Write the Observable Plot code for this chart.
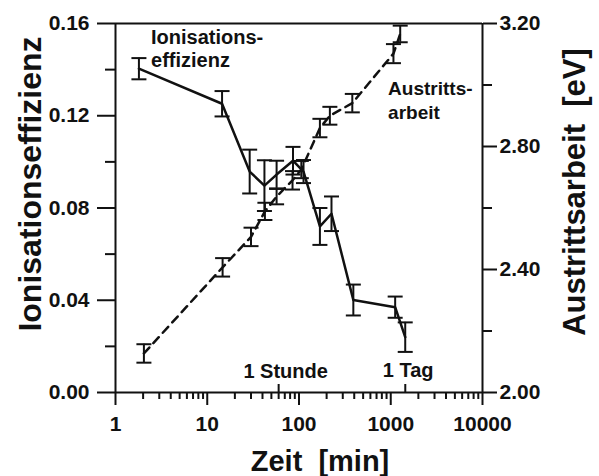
<!DOCTYPE html>
<html>
<head>
<meta charset="utf-8">
<script src="https://cdn.jsdelivr.net/npm/d3@7"></script>
<script src="https://cdn.jsdelivr.net/npm/@observablehq/plot@0.6"></script>
<style>
  html, body { margin: 0; padding: 0; background: #fff; }
</style>
</head>
<body>
<div id="chart"></div>
<script>
// Ionisationseffizienz (left axis, solid line)
const ionTime  = [1.8, 14.5, 29, 42, 57, 86, 112, 169, 226, 391, 1117, 1438];
const ionValue = [0.1404, 0.1252, 0.0958, 0.0897, 0.0945, 0.1005, 0.0958, 0.0720, 0.0775, 0.0401, 0.0370, 0.0240];
const ionError = [0.0046, 0.0055, 0.0095, 0.0110, 0.0060, 0.0060, 0.0050, 0.0080, 0.0075, 0.0067, 0.0046, 0.0064];

// Austrittsarbeit in eV (right axis, dashed line)
const ausTime  = [2.04, 14.7, 30, 42.5, 57, 85, 106, 169, 217, 381, 1070, 1268];
const ausValue = [2.127, 2.407, 2.506, 2.589, 2.637, 2.690, 2.725, 2.860, 2.900, 2.941, 3.102, 3.166];
const ausError = [0.030, 0.030, 0.030, 0.028, 0.025, 0.030, 0.028, 0.030, 0.029, 0.030, 0.031, 0.027];

// axes
const xDomain = [1, 10000];
const xMajor = [1, 10, 100, 1000, 10000];
const leftDomain = [0, 0.16];
const leftTicks = [0, 0.04, 0.08, 0.12, 0.16];
const leftMinor = [0.02, 0.06, 0.10, 0.14];
const rightDomain = [2.00, 3.20];
const rightTicks = [2.00, 2.40, 2.80, 3.20];
const rightMinor = [2.20, 2.60, 3.00];
const markTimes = [60, 1440];
const markLabels = ["1 Stunde", "1 Tag"];

const xMinor = [];
for (let e = 0; e < 4; e++) for (let k = 2; k <= 9; k++) xMinor.push(k * Math.pow(10, e));

// map right-axis values onto the left scale
const toLeft = v => (v - rightDomain[0]) / (rightDomain[1] - rightDomain[0]) * (leftDomain[1] - leftDomain[0]) + leftDomain[0];
const fromLeft = y => (y - leftDomain[0]) / (leftDomain[1] - leftDomain[0]) * (rightDomain[1] - rightDomain[0]) + rightDomain[0];

const ion = ionTime.map((t, i) => ({t, v: ionValue[i], lo: ionValue[i] - ionError[i], hi: ionValue[i] + ionError[i]}));
const aus = ausTime.map((t, i) => ({t, v: toLeft(ausValue[i]), lo: toLeft(ausValue[i] - ausError[i]), hi: toLeft(ausValue[i] + ausError[i])}));

const cap = {draw(ctx, size) { const r = Math.sqrt(size / Math.PI); ctx.moveTo(-r, 0); ctx.lineTo(r, 0); }};

const errorBars = (data) => [
  Plot.ruleX(data, {x: "t", y1: "lo", y2: "hi", strokeWidth: 2, stroke: "#111"}),
  Plot.dot(data, {x: "t", y: "lo", symbol: cap, r: 7.5, stroke: "#111", strokeWidth: 2, fill: "none"}),
  Plot.dot(data, {x: "t", y: "hi", symbol: cap, r: 7.5, stroke: "#111", strokeWidth: 2, fill: "none"})
];

const plot = Plot.plot({
  width: 599,
  height: 476,
  marginLeft: 115,
  marginRight: 117,
  marginTop: 23,
  marginBottom: 84,
  style: {fontFamily: "'Liberation Sans', Arial, sans-serif", fontSize: "21px", fontWeight: "bold", background: "#fff", color: "#111"},
  x: {type: "log", domain: xDomain, label: null},
  y: {domain: leftDomain, label: null},
  marks: [
    // frame
    Plot.ruleY([leftDomain[0], leftDomain[1]], {stroke: "#111", strokeWidth: 2}),
    Plot.ruleX([xDomain[0], xDomain[1]], {stroke: "#111", strokeWidth: 2}),
    // x axis
    Plot.axisX(xMajor, {anchor: "bottom", tickSize: 13, tickPadding: 11, strokeWidth: 2, tickFormat: d => String(d), label: null}),
    Plot.axisX(xMinor, {anchor: "bottom", tickSize: 7, strokeWidth: 2, tickFormat: () => "", label: null}),
    Plot.tickX(markTimes, {x: d => d, insetTop: 361, stroke: "#111", strokeWidth: 2}),
    // left y axis
    Plot.axisY(leftTicks, {anchor: "left", tickSize: 18, tickPadding: 8, strokeWidth: 2, tickFormat: d3.format(".2f"), label: null}),
    Plot.axisY(leftMinor, {anchor: "left", tickSize: 10, strokeWidth: 2, tickFormat: () => "", label: null}),
    // right y axis
    Plot.axisY(rightTicks.map(toLeft), {anchor: "right", tickSize: 14, tickPadding: 3, strokeWidth: 2, tickFormat: d => fromLeft(d).toFixed(2), label: null}),
    Plot.axisY(rightMinor.map(toLeft), {anchor: "right", tickSize: 9, strokeWidth: 2, tickFormat: () => "", label: null}),
    // data
    Plot.line(aus, {x: "t", y: "v", stroke: "#111", strokeWidth: 2.5, strokeDasharray: "8,6"}),
    ...errorBars(aus),
    Plot.line(ion, {x: "t", y: "v", stroke: "#111", strokeWidth: 2.5}),
    ...errorBars(ion),
    // annotations
    Plot.text(["Ionisations-"], {x: 2.44, y: 0.1513, text: d => d, textAnchor: "start", lineAnchor: "bottom", fontSize: 20}),
    Plot.text(["effizienz"], {x: 2.44, y: 0.1410, text: d => d, textAnchor: "start", lineAnchor: "bottom", fontSize: 20}),
    Plot.text(["Austritts-"], {x: 936, y: 0.1292, text: d => d, textAnchor: "start", lineAnchor: "bottom", fontSize: 19}),
    Plot.text(["arbeit"], {x: 936, y: 0.1187, text: d => d, textAnchor: "start", lineAnchor: "bottom", fontSize: 19}),
    Plot.text(markLabels, {x: [71.5, 1550], y: [0.0061, 0.0066], text: d => d, textAnchor: "middle", lineAnchor: "bottom", fontSize: 20}),
    // axis titles
    Plot.text(["Ionisationseffizienz"], {frameAnchor: "left", dx: -85, dy: -24, rotate: -90, text: d => d, fontSize: 32, textAnchor: "middle", lineAnchor: "middle"}),
    Plot.text(["Austrittsarbeit\u00a0\u00a0[eV]"], {frameAnchor: "right", dx: 93, dy: -16, rotate: -90, text: d => d, fontSize: 31, textAnchor: "middle", lineAnchor: "middle"}),
    Plot.text(["Zeit\u00a0\u00a0[min]"], {frameAnchor: "bottom", dx: 21, dy: 78, text: d => d, fontSize: 29, textAnchor: "middle", lineAnchor: "bottom"})
  ]
});

document.getElementById("chart").appendChild(plot);
</script>
</body>
</html>
